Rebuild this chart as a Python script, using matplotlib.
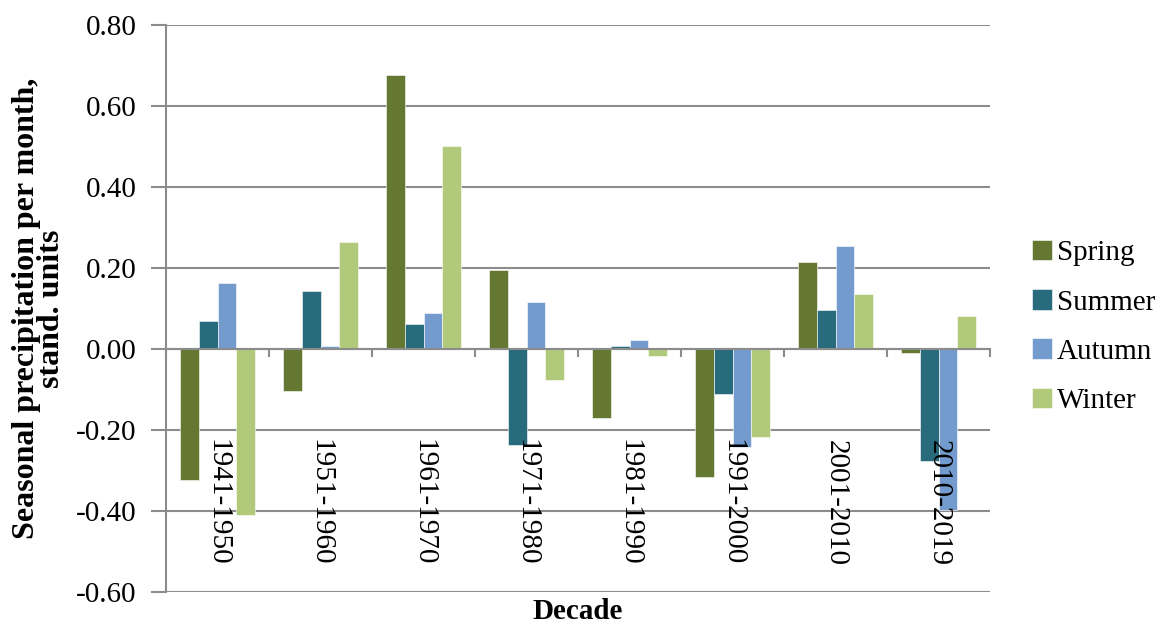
import matplotlib
matplotlib.use("Agg")
import matplotlib.pyplot as plt
import numpy as np

decades = ["1941-1950", "1951-1960", "1961-1970", "1971-1980",
           "1981-1990", "1991-2000", "2001-2010", "2010-2019"]
spring = [-0.323, -0.103, 0.676, 0.196, -0.170, -0.317, 0.216, -0.010]
summer = [0.069, 0.142, 0.062, -0.237, 0.008, -0.110, 0.096, -0.276]
autumn = [0.162, 0.008, 0.088, 0.116, 0.023, -0.243, 0.255, -0.397]
winter = [-0.410, 0.263, 0.502, -0.076, -0.017, -0.218, 0.135, 0.081]
season_names = ["Spring", "Summer", "Autumn", "Winter"]
season_colors = ["#647832", "#276B7C", "#739BCE", "#B0C97A"]
y_ticks = [-0.6, -0.4, -0.2, 0.0, 0.2, 0.4, 0.6, 0.8]

plt.rcParams["font.family"] = ["Liberation Serif", "DejaVu Serif"]
grid_color = "#8C8C8C"
fs = 21

fig = plt.figure(figsize=(11.64, 6.28), dpi=100)
ax = fig.add_axes([166 / 1164, 1 - 592 / 628, (990 - 166) / 1164, (592 - 25) / 628])

x = np.arange(len(decades))
bar_w = 0.18
series = [spring, summer, autumn, winter]
for i, (vals, name, col) in enumerate(zip(series, season_names, season_colors)):
    ax.bar(x + (i - 1.5) * bar_w, vals, width=bar_w, color=col, label=name,
           edgecolor="white", linewidth=0.4, zorder=3)

ax.set_xlim(-0.5, len(decades) - 0.5)
ax.set_ylim(-0.6, 0.8)
ax.set_yticks(y_ticks)
ax.set_yticklabels([f"{v:.2f}" for v in y_ticks], fontsize=fs)
ax.yaxis.grid(True, color=grid_color, linewidth=1.5, zorder=0)
ax.tick_params(axis="y", direction="out", length=11, width=1.5, color=grid_color, pad=10)

# category axis drawn at zero with boundary ticks
ax.spines["bottom"].set_position(("data", 0))
ax.spines["bottom"].set_color(grid_color)
ax.spines["bottom"].set_linewidth(1.5)
ax.spines["bottom"].set_zorder(4)
ax.spines["left"].set_color(grid_color)
ax.spines["left"].set_linewidth(1.5)
ax.spines["top"].set_visible(False)
ax.spines["right"].set_visible(False)
ax.set_xticks(np.arange(len(decades) + 1) - 0.5)
ax.set_xticklabels([])
ax.tick_params(axis="x", direction="out", length=6, width=1.5, color=grid_color)

for xi, lab in zip(x, decades):
    ax.text(xi, -0.535, lab, rotation=270, ha="center", va="bottom",
            fontsize=fs, zorder=5)

ax.set_ylabel("Seasonal precipitation per month,\nstand. units",
              fontsize=23, fontweight="bold", linespacing=0.85)
ax.yaxis.set_label_coords(-0.121, 0.5)
ax.set_xlabel("Decade", fontsize=fs, fontweight="bold")
ax.xaxis.set_label_coords(0.5, -0.035)
ax.xaxis.label.set_va("center")

leg = fig.legend(loc="center left", bbox_to_anchor=(1032 / 1164, 1 - 327 / 628),
                 frameon=False, fontsize=fs, handlelength=0.7, handleheight=0.7,
                 handletextpad=0.15, labelspacing=0.78, borderpad=0,
                 borderaxespad=0)

fig.savefig("out.png", dpi=100)
